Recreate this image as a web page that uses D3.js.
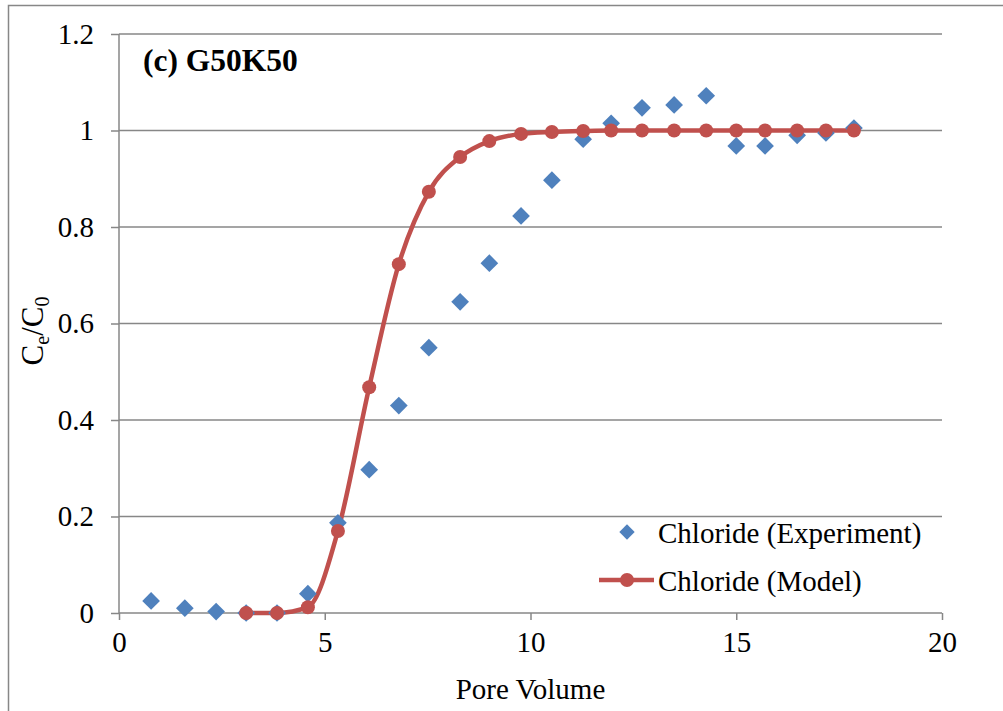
<!DOCTYPE html>
<html>
<head>
<meta charset="utf-8">
<script src="https://cdn.jsdelivr.net/npm/d3@7"></script>
<style>
  body { margin: 0; background: #fff; }
  text { font-family: "Liberation Serif", "Times New Roman", serif; fill: #000; }
</style>
</head>
<body>
<script>
// pore volume values (shared by both series)
const poreVolume = [0.78, 1.6, 2.36, 3.09, 3.84, 4.59, 5.32, 6.08, 6.8, 7.53, 8.29, 9.0,
  9.77, 10.52, 11.28, 11.96, 12.71, 13.49, 14.27, 15.0, 15.7, 16.48, 17.18, 17.86];
// experiment C/C0
const expValues = [0.025, 0.01, 0.003, 0, 0, 0.04, 0.187, 0.297, 0.43, 0.55, 0.645, 0.725,
  0.823, 0.897, 0.982, 1.015, 1.047, 1.053, 1.072, 0.968, 0.968, 0.99, 0.995, 1.005];
// model C/C0, starts at the 4th pore volume
const modelX = poreVolume.slice(3);
const modelValues = [0, 0, 0.012, 0.17, 0.468, 0.723, 0.873, 0.945, 0.978, 0.993, 0.997,
  0.999, 1, 1, 1, 1, 1, 1, 1, 1, 1];
const xTicks = [0, 5, 10, 15, 20];
const yTicks = [0, 0.2, 0.4, 0.6, 0.8, 1, 1.2];

const W = 1003, H = 711;
const plot = {left: 119, right: 942, top: 34, bottom: 613};
const blue = "#4F81BD", red = "#C0504D", grid = "#878787";
const fs = 29;

const svg = d3.select("body").append("svg")
  .attr("width", W).attr("height", H);

// outer frame
svg.append("rect")
  .attr("x", 8.5).attr("y", 5.5).attr("width", W + 20).attr("height", H + 20)
  .attr("fill", "none").attr("stroke", grid).attr("stroke-width", 1.5);

const x = d3.scaleLinear().domain([0, 20]).range([plot.left, plot.right]);
const y = d3.scaleLinear().domain([0, 1.2]).range([plot.bottom, plot.top]);

// gridlines
svg.append("g").selectAll("line")
  .data(yTicks.filter(d => d > 0))
  .enter().append("line")
  .attr("x1", plot.left).attr("x2", plot.right)
  .attr("y1", d => y(d)).attr("y2", d => y(d))
  .attr("stroke", grid).attr("stroke-width", 1.5);

// y axis
const yAxis = svg.append("g")
  .attr("transform", "translate(" + plot.left + ",0)")
  .call(d3.axisLeft(y).tickValues(yTicks).tickSize(8).tickPadding(17)
    .tickFormat(d => d === 0 ? "0" : d3.format("")(+d.toFixed(1))));
yAxis.selectAll("path, line").attr("stroke", grid).attr("stroke-width", 1.5);
yAxis.select(".domain").attr("d", "M0," + plot.bottom + "V" + plot.top);
yAxis.selectAll("text").attr("font-size", fs).attr("font-family", "Liberation Serif").attr("fill", "#000");

// x axis
const xAxis = svg.append("g")
  .attr("transform", "translate(0," + plot.bottom + ")")
  .call(d3.axisBottom(x).tickValues(xTicks).tickSize(7).tickPadding(11));
xAxis.selectAll("path, line").attr("stroke", grid).attr("stroke-width", 1.5);
xAxis.select(".domain").attr("d", "M" + plot.left + ",0H" + plot.right);
xAxis.selectAll("text").attr("font-size", fs).attr("font-family", "Liberation Serif").attr("fill", "#000");

// axis titles
svg.append("text")
  .attr("x", (plot.left + plot.right) / 2).attr("y", 699)
  .attr("text-anchor", "middle").attr("font-size", fs)
  .text("Pore Volume");

const yl = svg.append("text")
  .attr("transform", "translate(43,331) rotate(-90)")
  .attr("text-anchor", "middle").attr("font-size", 31);
yl.append("tspan").text("C");
yl.append("tspan").attr("font-size", 20).attr("dy", 6).text("e");
yl.append("tspan").attr("dy", -6).text("/C");
yl.append("tspan").attr("font-size", 20).attr("dy", 6).text("0");

// panel title
svg.append("text")
  .attr("x", 143).attr("y", 71)
  .attr("font-size", 31.5).attr("font-weight", "bold")
  .text("(c) G50K50");

const diamond = d3.symbol().type(d3.symbolDiamond2).size(200);

// model line
const line = d3.line()
  .x((d, i) => x(modelX[i]))
  .y(d => y(d))
  .curve(d3.curveMonotoneX);

svg.append("path")
  .datum(modelValues)
  .attr("d", line)
  .attr("fill", "none").attr("stroke", red).attr("stroke-width", 4.5);

// experiment diamonds
svg.append("g").selectAll("path")
  .data(expValues)
  .enter().append("path")
  .attr("d", diamond)
  .attr("transform", (d, i) => "translate(" + x(poreVolume[i]) + "," + y(d) + ")")
  .attr("fill", blue);

// model circles
svg.append("g").selectAll("circle")
  .data(modelValues)
  .enter().append("circle")
  .attr("cx", (d, i) => x(modelX[i]))
  .attr("cy", d => y(d))
  .attr("r", 7)
  .attr("fill", red);

// legend
const lg = svg.append("g");
lg.append("path").attr("d", d3.symbol().type(d3.symbolDiamond2).size(150))
  .attr("transform", "translate(627,532)").attr("fill", blue);
lg.append("text").attr("x", 658).attr("y", 543).attr("font-size", fs).text("Chloride (Experiment)");
lg.append("line").attr("x1", 599).attr("x2", 654).attr("y1", 580).attr("y2", 580)
  .attr("stroke", red).attr("stroke-width", 4.5);
lg.append("circle").attr("cx", 627).attr("cy", 580).attr("r", 7).attr("fill", red);
lg.append("text").attr("x", 658).attr("y", 591).attr("font-size", fs).text("Chloride (Model)");
</script>
</body>
</html>
